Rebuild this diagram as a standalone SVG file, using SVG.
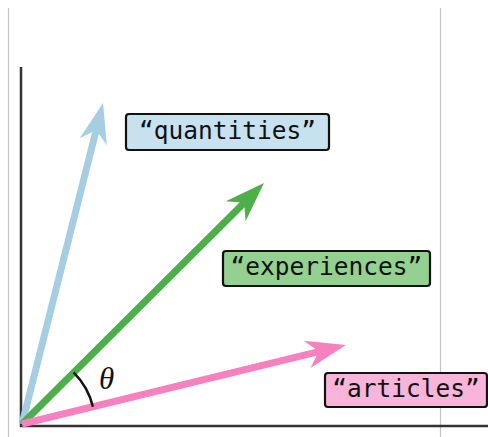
<svg xmlns="http://www.w3.org/2000/svg" width="488" height="437" viewBox="0 0 488 437">
<style>
.grid{stroke:#c4c4c4;stroke-width:1.2}
.axis{stroke:#333;stroke-width:2.5;fill:none}
.vec{stroke-width:7;fill:none}
.box{stroke:#111;stroke-width:2.2}
.lbl{font-family:"DejaVu Sans Mono","Liberation Mono",monospace;font-size:24.5px;fill:#111;text-anchor:middle}
</style>
<defs>
<marker id="hb" markerUnits="userSpaceOnUse" markerWidth="60" markerHeight="60" orient="auto" overflow="visible"><path d="M28,0 L-12,-14 L0,0 L-12,14 Z" fill="#a6cee3"/></marker>
<marker id="hg" markerUnits="userSpaceOnUse" markerWidth="60" markerHeight="60" orient="auto" overflow="visible"><path d="M28,0 L-12,-14 L0,0 L-12,14 Z" fill="#4daf4a"/></marker>
<marker id="hp" markerUnits="userSpaceOnUse" markerWidth="60" markerHeight="60" orient="auto" overflow="visible"><path d="M28,0 L-12,-14 L0,0 L-12,14 Z" fill="#f781bf"/></marker>
</defs>
<rect width="488" height="437" fill="#fff"/>
<line class="grid" x1="8.5" y1="8" x2="8.5" y2="437"/>
<line class="grid" x1="440.5" y1="8" x2="440.5" y2="437"/>
<path class="axis" d="M21,67 L21,426 L488,426"/>
<g id="connectors">
<line class="vec" stroke="#a6cee3" x1="22" y1="424" x2="96.2" y2="130.1" marker-end="url(#hb)"/>
<line class="vec" stroke="#4daf4a" x1="22" y1="424" x2="244.2" y2="202.8" marker-end="url(#hg)"/>
<line class="vec" stroke="#f781bf" x1="22" y1="424" x2="318.8" y2="351.6" marker-end="url(#hp)"/>
<path d="M73.6,372.4 A73,73 0 0 1 92.9,406.7" stroke="#111" stroke-width="2.5" fill="none"/>
<text x="99" y="389" font-family="Liberation Serif,serif" font-style="italic" font-size="31" fill="#111">θ</text>
</g>
<g id="quantities">
<rect class="box" x="126" y="114" width="203" height="36" rx="3" fill="#c8e1ef"/>
<text class="lbl" x="227.5" y="138.5">“quantities”</text>
</g>
<g id="experiences">
<rect class="box" x="223" y="251" width="207" height="35" rx="3" fill="#94d08f"/>
<text class="lbl" x="326.5" y="275">“experiences”</text>
</g>
<g id="articles">
<rect class="box" x="325" y="373" width="162" height="34" rx="3" fill="#f9b4da"/>
<text class="lbl" x="406" y="397">“articles”</text>
</g>
</svg>
